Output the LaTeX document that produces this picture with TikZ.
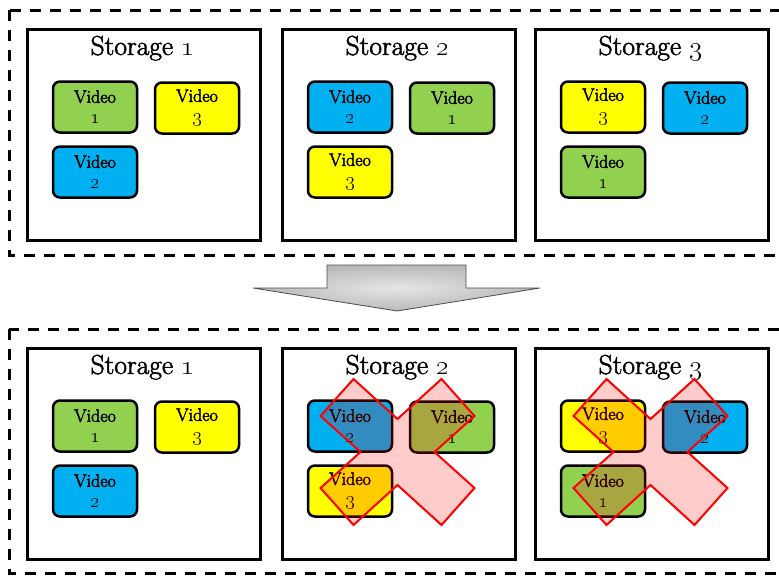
\documentclass[tikz,border=0pt]{standalone}
\usepackage{fix-cm}
\definecolor{vc1}{HTML}{92D050}
\definecolor{vc2}{HTML}{00B0F0}
\definecolor{vc3}{HTML}{FFFF00}
\newcommand\heavytext[1]{\special{pdf:literal direct 2 Tr 0.5 w}#1\special{pdf:literal direct 0 Tr}}
\newcommand\vnum[1]{{\fontsize{20}{21}\selectfont\heavytext{\oldstylenums{#1}}}}
\tikzset{
  dashbox/.style={draw=black, line width=3pt, dash pattern=on 11pt off 9pt},
  storebox/.style={draw=black, line width=2.5pt, fill=white, minimum width=233pt, minimum height=211pt, inner sep=0pt, anchor=north west},
  vidbox/.style={draw=black, line width=2.5pt, rounded corners=7pt, minimum width=84pt, minimum height=51pt, inner sep=0pt, align=center, font=\fontsize{18}{21}\selectfont},
  titletext/.style={font=\fontsize{27.5}{30}\selectfont, anchor=base, inner sep=0pt},
  crossmark/.style={draw=red, line width=2pt, fill=red, fill opacity=0.2},
  bigarrow/.style={draw=black!70, line width=0.8pt, inner color=gray!20, outer color=gray!55},
}
\newcommand\StoreUnit[7]{%
  \begin{scope}[shift={(#2,#3)}]
    \node[storebox] (#1) at (0,0) {};
    \node[titletext] (#1t) at (116.5,27) {\heavytext{Storage \oldstylenums{#4}}};
    \node[vidbox, fill=vc#5] (#1a) at (69,79) {\heavytext{Video}\\\vnum{#5}};
    \node[vidbox, fill=vc#6] (#1b) at (171,80) {\heavytext{Video}\\\vnum{#6}};
    \node[vidbox, fill=vc#7] (#1c) at (69,144) {\heavytext{Video}\\\vnum{#7}};
  \end{scope}}
\newcommand\XMark[2]{%
  \begin{scope}[shift={(#1,#2)}]
    \draw[crossmark] (-44,-73) -- (0,-33) -- (44,-73) -- (77,-36) -- (37,0) -- (77,36)
      -- (44,73) -- (0,33) -- (-44,73) -- (-77,36) -- (-37,0) -- (-77,-36) -- cycle;
  \end{scope}}
\begin{document}
\begin{tikzpicture}[x=1pt, y=-1pt]
  \useasboundingbox (0,0) rectangle (779,576);
  \clip (0,0) rectangle (779,576);
  % top group
  \draw[dashbox] (9,10) rectangle (800,255);
  \StoreUnit{ta}{26}{28}{1}{1}{3}{2}
  \StoreUnit{tb}{281}{28}{2}{2}{1}{3}
  \StoreUnit{tc}{534}{28}{3}{3}{2}{1}
  % arrow
  \draw[bigarrow] (327,265) -- (466,265) -- (466,288) -- (540,288) -- (397,311)
    -- (253,288) -- (327,288) -- cycle;
  % bottom group
  \draw[dashbox] (9,329) rectangle (800,573);
  \StoreUnit{ba}{26}{347}{1}{1}{3}{2}
  \StoreUnit{bb}{281}{347}{2}{2}{1}{3}
  \StoreUnit{bc}{534}{347}{3}{3}{2}{1}
  \XMark{397.5}{452}
  \XMark{650.5}{452}
\end{tikzpicture}
\end{document}
